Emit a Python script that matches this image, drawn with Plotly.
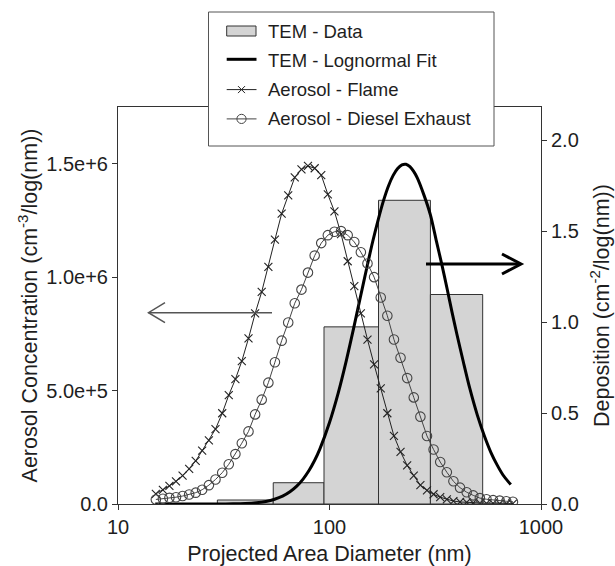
import plotly.graph_objects as go

# ---------------------------------------------------------------------------
# Data
# ---------------------------------------------------------------------------
# Mobility-size channels (nm) shared by both aerosol size distributions
diam_nm = [15.1, 16.3, 17.5, 18.8, 20.2, 21.7, 23.3, 25.0, 26.9, 28.9,
           31.1, 33.4, 35.9, 38.5, 41.4, 44.5, 47.8, 51.4, 55.2, 59.4,
           63.8, 68.5, 73.7, 79.1, 85.1, 91.4, 98.2, 105.5, 113.4, 121.9,
           131.0, 140.7, 151.2, 162.5, 174.7, 187.7, 201.7, 216.7, 232.9, 250.3,
           269.0, 289.0, 310.6, 333.8, 358.7, 385.4, 414.2, 445.1, 478.3, 514.0,
           552.3, 593.5, 637.8, 685.4, 736.5]

# Aerosol concentration, units of 1e6 cm^-3/log(nm)
flame_conc_m = [0.045, 0.062, 0.080, 0.100, 0.125, 0.155, 0.190, 0.235, 0.280, 0.330,
                0.400, 0.480, 0.550, 0.630, 0.730, 0.840, 0.935, 1.045, 1.165, 1.280,
                1.360, 1.440, 1.475, 1.490, 1.480, 1.450, 1.365, 1.290, 1.190, 1.070,
                0.960, 0.840, 0.725, 0.615, 0.510, 0.400, 0.300, 0.230, 0.170, 0.125,
                0.083, 0.060, 0.043, 0.030, 0.020, 0.013, 0.009, 0.007, 0.005, 0.004,
                0.003, 0.003, 0.002, 0.002, 0.002]

diesel_conc_m = [0.020, 0.023, 0.027, 0.030, 0.035, 0.042, 0.050, 0.063, 0.083, 0.108,
                 0.138, 0.175, 0.220, 0.268, 0.320, 0.395, 0.460, 0.535, 0.625, 0.720,
                 0.800, 0.885, 0.945, 1.020, 1.095, 1.150, 1.185, 1.200, 1.203, 1.185,
                 1.155, 1.110, 1.060, 1.000, 0.910, 0.830, 0.725, 0.645, 0.555, 0.470,
                 0.385, 0.300, 0.240, 0.185, 0.140, 0.100, 0.072, 0.052, 0.038, 0.026,
                 0.021, 0.017, 0.015, 0.012, 0.010]

# TEM deposition histogram: bin edges (nm) and deposition (cm^-2/log(nm))
tem_edges_nm = [29.5, 54.2, 94.2, 170.5, 300.0, 530.0]
tem_dep = [0.022, 0.117, 0.974, 1.670, 1.152]

# Lognormal fit to the TEM data
fit_d_nm = [15, 20, 25, 30, 35, 40, 45, 50, 55, 60,
            65, 70, 75, 80, 85, 90, 100, 110, 120, 130,
            140, 150, 160, 170, 180, 190, 200, 210, 220, 230,
            240, 250, 260, 280, 300, 320, 340, 360, 380, 400,
            430, 460, 500, 540, 580, 620, 660, 700, 720]
fit_dep = [0.0, 0.0, 0.0, 0.0003, 0.001, 0.003, 0.007, 0.014, 0.026, 0.043,
           0.067, 0.098, 0.137, 0.184, 0.239, 0.302, 0.448, 0.611, 0.787, 0.966,
           1.138, 1.298, 1.442, 1.564, 1.668, 1.749, 1.807, 1.845, 1.865, 1.868,
           1.855, 1.829, 1.793, 1.697, 1.590, 1.447, 1.315, 1.182, 1.052, 0.935,
           0.778, 0.638, 0.489, 0.374, 0.283, 0.215, 0.161, 0.123, 0.107]

# Tick labels
x_tickvals = [10, 100, 1000]
x_ticktext = ["10", "100", "1000"]
conc_tickvals = [0, 5e5, 1e6, 1.5e6]
conc_ticktext = ["0.0", "5.0e+5", "1.0e+6", "1.5e+6"]
dep_tickvals = [0, 0.5, 1.0, 1.5, 2.0]
dep_ticktext = ["0.0", "0.5", "1.0", "1.5", "2.0"]

legend_labels = ["TEM - Data", "TEM - Lognormal Fit",
                 "Aerosol - Flame", "Aerosol - Diesel Exhaust"]

# ---------------------------------------------------------------------------
# Figure geometry (pixels)
# ---------------------------------------------------------------------------
W, H = 615, 566
ML, MR, MT, MB = 118, 74, 107, 62
PW, PH = W - ML - MR, H - MT - MB

FONT = "Liberation Sans, Arial, sans-serif"
TXT = "#1e1e1e"
AX = "#333333"


def pxx(x):
    """Pixel column -> paper x."""
    return (x - ML) / PW


def pxy(y):
    """Pixel row (from top) -> paper y."""
    return (H - MB - y) / PH


fig = go.Figure()

# TEM histogram bars (right axis, drawn first so curves sit on top)
for i, h in enumerate(tem_dep):
    x0, x1 = tem_edges_nm[i], tem_edges_nm[i + 1]
    fig.add_trace(go.Scatter(
        x=[x0, x0, x1, x1, x0], y=[0, h, h, 0, 0],
        mode="lines", fill="toself", fillcolor="#d4d4d4",
        line=dict(color="#333333", width=1),
        name=legend_labels[0], showlegend=False, hoverinfo="skip",
        yaxis="y"))

# Lognormal fit
fig.add_trace(go.Scatter(
    x=fit_d_nm, y=fit_dep, mode="lines",
    line=dict(color="black", width=3, shape="spline", smoothing=0.8),
    name=legend_labels[1], showlegend=False, yaxis="y"))

# Aerosol size distributions (left axis)
fig.add_trace(go.Scatter(
    x=diam_nm, y=[v * 1e6 for v in flame_conc_m], mode="lines+markers",
    line=dict(color="#222222", width=1),
    marker=dict(symbol="x-thin", size=8, line=dict(width=1.1, color="#222222")),
    name=legend_labels[2], showlegend=False, yaxis="y2"))

fig.add_trace(go.Scatter(
    x=diam_nm, y=[v * 1e6 for v in diesel_conc_m], mode="lines+markers",
    line=dict(color="#444444", width=1),
    marker=dict(symbol="circle-open", size=9.5, line=dict(width=1.1, color="#444444")),
    name=legend_labels[3], showlegend=False, yaxis="y2"))

# ---------------------------------------------------------------------------
# Legend box, drawn by hand
# ---------------------------------------------------------------------------
shapes = []
shapes.append(dict(type="rect", xref="paper", yref="paper", layer="above",
                   x0=pxx(208.5), x1=pxx(494), y0=pxy(146), y1=pxy(12),
                   fillcolor="white", line=dict(color="#555555", width=1)))

rows_y = [31, 60.3, 89.6, 118.9]
sym_x0, sym_x1, sym_xc = 226.7, 256.5, 241.5

shapes.append(dict(type="rect", xref="paper", yref="paper", layer="above",
                   x0=pxx(sym_x0), x1=pxx(256), y0=pxy(rows_y[0] + 5), y1=pxy(rows_y[0] - 5),
                   fillcolor="#d4d4d4", line=dict(color="#333333", width=1)))
shapes.append(dict(type="line", xref="paper", yref="paper", layer="above",
                   x0=pxx(sym_x0), x1=pxx(sym_x1), y0=pxy(rows_y[1] - 1), y1=pxy(rows_y[1] - 1),
                   line=dict(color="black", width=3)))
shapes.append(dict(type="line", xref="paper", yref="paper", layer="above",
                   x0=pxx(sym_x0), x1=pxx(sym_x1), y0=pxy(rows_y[2]), y1=pxy(rows_y[2]),
                   line=dict(color="#222222", width=1)))
for dx, dy in [(-3.5, -3.5), (-3.5, 3.5)]:
    shapes.append(dict(type="line", xref="paper", yref="paper", layer="above",
                       x0=pxx(sym_xc + dx), x1=pxx(sym_xc - dx),
                       y0=pxy(rows_y[2] + dy), y1=pxy(rows_y[2] - dy),
                       line=dict(color="#222222", width=1)))
shapes.append(dict(type="line", xref="paper", yref="paper", layer="above",
                   x0=pxx(sym_x0), x1=pxx(sym_x1), y0=pxy(rows_y[3]), y1=pxy(rows_y[3]),
                   line=dict(color="#444444", width=1)))
shapes.append(dict(type="circle", xref="paper", yref="paper", layer="above",
                   x0=pxx(sym_xc - 4.6), x1=pxx(sym_xc + 4.6),
                   y0=pxy(rows_y[3] + 4.6), y1=pxy(rows_y[3] - 4.6),
                   line=dict(color="#444444", width=1)))

annotations = []
for lbl, ry in zip(legend_labels, rows_y):
    annotations.append(dict(text=lbl, xref="paper", yref="paper",
                            x=pxx(266), y=pxy(ry), xanchor="left", yanchor="middle",
                            showarrow=False, font=dict(family=FONT, size=18.5, color=TXT)))

# ---------------------------------------------------------------------------
# Direction arrows: which axis each family of curves is read against
# ---------------------------------------------------------------------------
ly = 312.7
shapes.append(dict(type="line", xref="paper", yref="paper", layer="above",
                   x0=pxx(272), x1=pxx(148.5), y0=pxy(ly), y1=pxy(ly),
                   line=dict(color="#555555", width=1.5)))
shapes.append(dict(type="path", xref="paper", yref="paper", layer="above",
                   path=f"M {pxx(165)},{pxy(ly - 10)} L {pxx(148.5)},{pxy(ly)} L {pxx(165)},{pxy(ly + 10)}",
                   line=dict(color="#555555", width=1.5)))
ry_ = 264
shapes.append(dict(type="line", xref="paper", yref="paper", layer="above",
                   x0=pxx(426), x1=pxx(520), y0=pxy(ry_), y1=pxy(ry_),
                   line=dict(color="black", width=3)))
shapes.append(dict(type="path", xref="paper", yref="paper", layer="above",
                   path=f"M {pxx(502)},{pxy(ry_ - 10)} L {pxx(521)},{pxy(ry_)} L {pxx(502)},{pxy(ry_ + 10)}",
                   line=dict(color="black", width=3)))

tick_font = dict(family=FONT, size=20, color=TXT)
title_font = dict(family=FONT, size=21.5, color=TXT)

fig.update_layout(
    width=W, height=H,
    margin=dict(l=ML, r=MR, t=MT, b=MB, pad=0, autoexpand=False),
    paper_bgcolor="white", plot_bgcolor="white",
    showlegend=False,
    font=dict(family=FONT, color=TXT),
    xaxis=dict(
        type="log", range=[1, 3], automargin=False,
        tickvals=x_tickvals, ticktext=x_ticktext,
        ticks="outside", ticklen=5, tickwidth=1, tickcolor=AX,
        ticklabelstandoff=0,
        showline=True, linecolor=AX, linewidth=1, mirror=True,
        showgrid=False, zeroline=False, tickfont=tick_font,
        title=dict(text="Projected Area Diameter (nm)", font=title_font, standoff=14),
    ),
    yaxis=dict(
        side="right", range=[0, 2.183], automargin=False,
        tickvals=dep_tickvals, ticktext=dep_ticktext,
        ticks="outside", ticklen=5, tickwidth=1, tickcolor=AX,
        showline=True, linecolor=AX, linewidth=1,
        showgrid=False, zeroline=False, tickfont=tick_font,
        title=dict(text="Deposition (cm<sup>-2</sup>/log(nm))", font=title_font, standoff=16),
    ),
    yaxis2=dict(
        overlaying="y", side="left", anchor="x", range=[0, 1.75e6], automargin=False,
        tickvals=conc_tickvals, ticktext=conc_ticktext,
        ticks="outside", ticklen=5, tickwidth=1, tickcolor=AX,
        showline=True, linecolor=AX, linewidth=1,
        showgrid=False, zeroline=False, tickfont=tick_font,
        title=dict(text="Aerosol Concentration (cm<sup>-3</sup>/log(nm))", font=title_font, standoff=2),
    ),
    shapes=shapes,
    annotations=annotations,
)

fig.write_html("out.html")
